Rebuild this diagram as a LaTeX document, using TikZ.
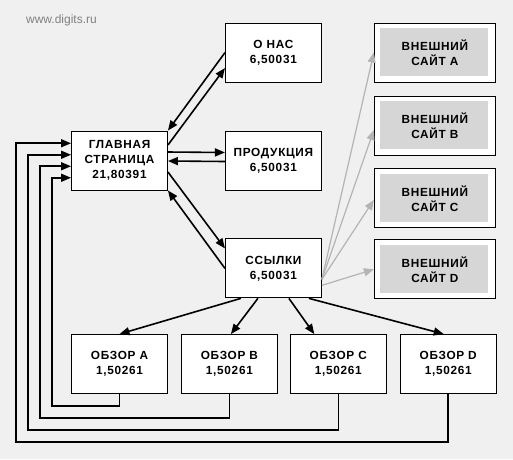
\documentclass[tikz,border=0pt]{standalone}
\usepackage{fontspec}
\setmainfont{Liberation Sans}
\newfontfamily\boxfont{Liberation Sans}[LetterSpace=6]
\usetikzlibrary{arrows.meta, positioning}
\definecolor{bgGray}{HTML}{F0F0F0}
\definecolor{siteGray}{HTML}{D6D6D6}
\definecolor{linkGray}{HTML}{B4B4B4}
\tikzstyle{page} = [rectangle, minimum width=96pt, minimum height=59pt, align=center, draw=black, line width=0.9pt, fill=white, font=\boxfont\bfseries\fontsize{11.8}{15}\selectfont]
\tikzstyle{extsite} = [page, minimum width=121pt, path picture={\fill[siteGray] ([shift={(6pt,6pt)}]path picture bounding box.south west) rectangle ([shift={(-7pt,-5pt)}]path picture bounding box.north east);}]
\tikzstyle{arrow} = [line width=1.6pt, ->, >={Triangle[length=10pt,width=8pt]}]
\tikzstyle{linkarrow} = [arrow, draw=linkGray, line width=1.2pt]
\begin{document}
\begin{tikzpicture}[x=1pt, y=-1pt]

    \fill[bgGray] (0,0) rectangle (513,459);
    \useasboundingbox (0,0) rectangle (513,459);
    \node (watermark) [text=gray, font=\fontsize{12}{13}\selectfont] at (61.5,20) {www.digits.ru};

    \node (main) [page] at (119.5,160.5) {ГЛАВНАЯ\\СТРАНИЦА\\21,80391};
    \node (products) [page, right=57pt of main] {ПРОДУКЦИЯ\\6,50031};
    \node (about) [page, above=48pt of products] {О НАС\\6,50031};
    \node (links) [page, below=48pt of products] {ССЫЛКИ\\6,50031};

    \node (siteA) [extsite, right=52pt of about] {ВНЕШНИЙ\\САЙТ A};
    \node (siteB) [extsite, below=13pt of siteA] {ВНЕШНИЙ\\САЙТ B};
    \node (siteC) [extsite, below=13pt of siteB] {ВНЕШНИЙ\\САЙТ C};
    \node (siteD) [extsite, below=11pt of siteC] {ВНЕШНИЙ\\САЙТ D};

    \node (reviewA) [page] at (119.5,364) {ОБЗОР A\\1,50261};
    \node (reviewB) [page, right=13pt of reviewA] {ОБЗОР B\\1,50261};
    \node (reviewC) [page, right=12pt of reviewB] {ОБЗОР C\\1,50261};
    \node (reviewD) [page, right=13pt of reviewC] {ОБЗОР D\\1,50261};

    \draw [arrow] (about.west) -- (main.north east);
    \draw [arrow] ([yshift=15.5pt]main.east) -- ([yshift=-15.5pt]about.west);
    \draw [arrow] ([yshift=8.5pt]main.east) -- ([yshift=8pt]products.west);
    \draw [arrow] ([yshift=-1pt]products.west) -- ([yshift=-0.5pt]main.east);
    \draw [arrow] ([yshift=-11.5pt]main.east) -- ([yshift=20pt]links.west);
    \draw [arrow] (links.west) -- (main.south east);

    \draw [linkarrow] ([yshift=-11pt]links.east) -- (siteA.west);
    \draw [linkarrow] ([yshift=-11pt]links.east) -- ([yshift=-4.5pt]siteB.west);
    \draw [linkarrow] ([yshift=-11pt]links.east) -- ([yshift=-1.5pt]siteC.west);
    \draw [linkarrow] ([yshift=-17pt]links.east) -- (siteD.west);

    \draw [arrow] ([xshift=-32.5pt]links.south) -- (reviewA.north);
    \draw [arrow] ([xshift=-15.5pt]links.south) -- ([xshift=1.5pt]reviewB.north);
    \draw [arrow] ([xshift=15.5pt]links.south) -- ([xshift=-24pt]reviewC.north);
    \draw [arrow] ([xshift=35.5pt]links.south) -- ([xshift=-4.5pt]reviewD.north);

    \draw [arrow] (reviewA.south) -- ++(0,12) -| ([xshift=-19pt,yshift=-17.25pt]main.west) -- ([yshift=-17.25pt]main.west);
    \draw [arrow] (reviewB.south) -- ++(0,24) -| ([xshift=-31pt,yshift=-5.75pt]main.west) -- ([yshift=-5.75pt]main.west);
    \draw [arrow] (reviewC.south) -- ++(0,36) -| ([xshift=-43pt,yshift=5.75pt]main.west) -- ([yshift=5.75pt]main.west);
    \draw [arrow] (reviewD.south) -- ++(0,48) -| ([xshift=-55pt,yshift=17.25pt]main.west) -- ([yshift=17.25pt]main.west);

\end{tikzpicture}
\end{document}
